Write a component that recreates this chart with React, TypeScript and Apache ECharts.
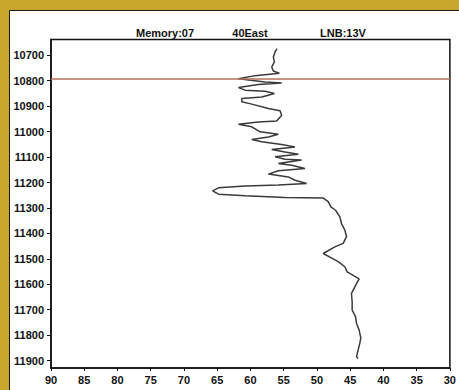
import React, { useEffect, useRef } from "react";
import * as echarts from "echarts";

const titleParts = ["Memory:07", "40East", "LNB:13V"];
const yTickValues = [10700, 10800, 10900, 11000, 11100, 11200, 11300, 11400, 11500, 11600, 11700, 11800, 11900];
const markerFrequency = 10793;

// level (x)
const levels = [
  56.0, 56.3, 56.55, 56.4, 56.8, 56.55, 55.65, 59.3, 61.8, 57.8,
  55.3, 58.8, 61.8, 60.8, 57.8, 56.4, 58.3, 61.3, 61.3, 59.8,
  57.3, 55.55, 55.3, 56.05, 58.8, 61.8, 59.8, 58.55, 55.8, 57.3,
  59.8, 58.3, 55.3, 53.3, 56.8, 54.8, 52.8, 56.3, 54.8, 52.3,
  55.8, 53.8, 51.8, 55.8, 57.3, 54.3, 53.3, 51.55, 55.8, 60.8,
  64.8, 65.7, 64.8, 60.8, 54.8, 49.05, 48.3, 47.9, 47.2, 46.55,
  46.3, 45.8, 45.55, 46.05, 47.3, 49.05, 48.05, 46.8, 45.8, 45.45,
  43.65, 44.2, 44.8, 44.7, 44.7, 44.2, 44.05, 43.65, 43.4, 43.55,
  43.8, 44.05, 43.8,
];
// frequency (y)
const frequencies = [
  10674, 10687, 10707, 10726, 10746, 10762, 10771, 10780, 10792, 10805,
  10809, 10815, 10827, 10837, 10841, 10850, 10864, 10870, 10883, 10892,
  10909, 10918, 10936, 10958, 10962, 10971, 10981, 11001, 11010, 11021,
  11031, 11040, 11051, 11060, 11070, 11080, 11089, 11099, 11109, 11112,
  11125, 11132, 11145, 11154, 11167, 11178, 11191, 11204, 11210, 11214,
  11221, 11233, 11246, 11252, 11259, 11261, 11275, 11296, 11309, 11335,
  11361, 11387, 11413, 11439, 11453, 11479, 11493, 11511, 11531, 11551,
  11579, 11605, 11636, 11669, 11701, 11727, 11753, 11780, 11811, 11832,
  11858, 11885, 11891,
];

const FONT = "'Liberation Sans', Arial, sans-serif";

export default function App() {
  const ref = useRef<HTMLDivElement>(null);
  useEffect(() => {
    if (!ref.current) return;
    const chart = echarts.init(ref.current, null, { renderer: "svg" });
    const data = levels.map((v, i) => [v, frequencies[i]]);
    const titleX = [165, 250, 343];
    chart.setOption({
      animation: false,
      backgroundColor: "#c8a62c",
      graphic: [
        {
          type: "rect",
          z: -10,
          shape: { x: 9.5, y: 10.5, width: 460, height: 390 },
          style: { fill: "#ffffff", stroke: "#1a1a1a", lineWidth: 1 },
        },
        ...titleParts.map((t, i) => ({
          type: "text",
          x: titleX[i],
          y: 32.5,
          style: {
            text: t,
            fill: "#111",
            font: `bold 11px ${FONT}`,
            textAlign: "center",
            textVerticalAlign: "middle",
          },
        })),
      ],
      grid: {
        left: 51,
        top: 39.5,
        width: 401,
        height: 328.5,
        show: true,
        backgroundColor: "#ffffff",
        borderColor: "#111",
        borderWidth: 1.5,
      },
      xAxis: {
        type: "value",
        inverse: true,
        min: 30,
        max: 90,
        interval: 5,
        axisLine: { show: true, lineStyle: { color: "#111", width: 1.5 } },
        axisTick: { show: true, length: 3, lineStyle: { color: "#111" } },
        splitLine: { show: false },
        axisLabel: {
          color: "#111",
          fontSize: 11,
          fontWeight: "bold",
          fontFamily: FONT,
          margin: 6,
          showMinLabel: true,
          showMaxLabel: true,
        },
      },
      yAxis: {
        type: "value",
        inverse: true,
        min: 10638,
        max: 11929,
        axisLine: { show: true, lineStyle: { color: "#111", width: 1.5 } },
        axisTick: { show: true, length: 4, customValues: yTickValues, lineStyle: { color: "#111" } },
        splitLine: { show: false },
        axisLabel: {
          color: "#111",
          fontSize: 11,
          fontWeight: "bold",
          fontFamily: FONT,
          margin: 7,
          customValues: yTickValues,
          formatter: (v: number) => String(v),
        },
      },
      series: [
        {
          type: "line",
          data,
          symbol: "none",
          showSymbol: false,
          lineStyle: { color: "#3a3a3a", width: 1.5 },
          markLine: {
            silent: true,
            symbol: ["none", "none"],
            label: { show: false },
            lineStyle: { color: "#b5705a", width: 1.5, type: "solid", opacity: 1 },
            emphasis: { disabled: true },
            data: [{ yAxis: markerFrequency }],
          },
        },
      ],
    });
    return () => chart.dispose();
  }, []);
  return (
    <div
      ref={ref}
      style={{ position: "fixed", left: 0, top: 0, width: 459, height: 390 }}
    />
  );
}
